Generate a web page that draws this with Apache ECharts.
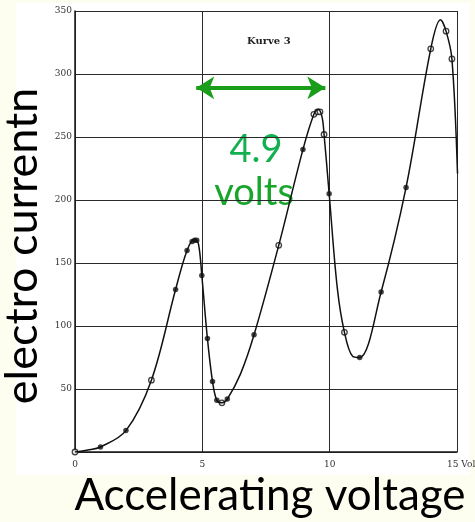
<!DOCTYPE html>
<html>
<head>
<meta charset="utf-8">
<script src="https://cdn.jsdelivr.net/npm/echarts@6/dist/echarts.min.js"></script>
<style>
  html, body { margin: 0; padding: 0; background: #fefef0; }
  #chart { width: 475px; height: 522px; }
</style>
</head>
<body>
<div id="chart"></div>
<script>
// measured points (voltage, current), filled dots
var filledPts = [
  [1.0, 4], [2.0, 17], [3.95, 129], [4.4, 160], [4.6, 167], [4.7, 168], [4.78, 168],
  [4.98, 140], [5.2, 90], [5.4, 56], [5.57, 41], [5.98, 42],
  [7.03, 93], [8.95, 240], [9.98, 205], [11.18, 75], [12.02, 127], [13.0, 210]
]
// measured points, open circles
var openPts = [
  [0, 0], [3.0, 57], [5.77, 39], [8.0, 164], [9.38, 268], [9.52, 270], [9.62, 270],
  [9.78, 252], [10.58, 95], [13.97, 320], [14.57, 334], [14.8, 312], [15.02, 221]
]
// the drawn curve
var curvePts = [
  [0, 0], [0.5, 1.5], [1.0, 4], [2.0, 17], [3.0, 57], [3.95, 129], [4.4, 160], [4.7, 169],
  [4.85, 165], [4.98, 140], [5.2, 90], [5.4, 56], [5.57, 41], [5.77, 39], [5.98, 42],
  [6.5, 62], [7.03, 93], [8.0, 164], [8.95, 240], [9.38, 268], [9.55, 272], [9.7, 266],
  [9.78, 252], [9.98, 205], [10.3, 130], [10.58, 95], [10.9, 76], [11.18, 75],
  [12.02, 127], [13.0, 210], [13.97, 320], [14.35, 343], [14.57, 334], [14.8, 312], [15.02, 221]
]
var xTicks = [0, 5, 10, 15]
var yTicks = [50, 100, 150, 200, 250, 300, 350]

var chart = echarts.init(document.getElementById('chart'))

var gridLine = { color: '#2a2a2a', width: 1 }
var serif = 'DejaVu Serif'

chart.setOption({
  animation: false,
  backgroundColor: '#fefef0',
  grid: { left: 75, right: 18, top: 11, bottom: 70, containLabel: false, outerBoundsMode: 'none' },
  graphic: [
    // white paper of the scanned figure
    { type: 'rect', z: -10, shape: { x: 16, y: 3, width: 454, height: 472 }, style: { fill: '#ffffff' } },
    { type: 'text', left: 247, top: 36, style: { text: 'Kurve 3', font: 'bold 10px "DejaVu Serif"', fill: '#222' } },
    { type: 'text', x: 22, y: 246, rotation: Math.PI / 2,
      style: { text: 'electro currentn', font: '45px Lato', fill: '#000', align: 'center', verticalAlign: 'middle' } },
    { type: 'text', x: 270, y: 496,
      style: { text: 'Accelerating voltage', font: '44px Lato', fill: '#000', align: 'center', verticalAlign: 'middle' } },
    { type: 'text', x: 256, y: 150,
      style: { text: '4.9', font: '38px Lato', fill: '#13b04f', align: 'center', verticalAlign: 'middle' } },
    { type: 'text', x: 254, y: 193,
      style: { text: 'volts', font: '38px Lato', fill: '#17a52a', align: 'center', verticalAlign: 'middle' } }
  ],
  xAxis: {
    type: 'value', min: 0, max: 15, interval: 5,
    axisLine: { lineStyle: { color: '#1a1a1a', width: 1.5 } },
    axisTick: { show: false },
    axisLabel: {
      color: '#333', fontFamily: serif, fontSize: 9, margin: 8,
      formatter: function (v) {
        if (xTicks.indexOf(v) < 0) return ''
        return v === 15 ? '{last|15 Volt}' : '' + v
      },
      rich: { last: { fontFamily: serif, fontSize: 9, color: '#333', padding: [0, 0, 0, 12] } }
    },
    splitLine: { show: true, lineStyle: gridLine }
  },
  yAxis: {
    type: 'value', min: 0, max: 350, interval: 50,
    axisLine: { show: true, lineStyle: { color: '#1a1a1a', width: 1.5 } },
    axisTick: { show: false },
    axisLabel: { color: '#333', fontFamily: serif, fontSize: 9, margin: 3,
      formatter: function (v) { return yTicks.indexOf(v) >= 0 ? v : '' } },
    splitLine: { show: true, lineStyle: gridLine }
  },
  series: [
    {
      type: 'line', data: curvePts, smooth: 0.35, showSymbol: false,
      lineStyle: { color: '#111', width: 1.5 },
      markLine: {
        silent: true, symbol: ['arrow', 'arrow'], symbolSize: [17, 18],
        label: { show: false },
        lineStyle: { color: '#1a9e1a', width: 4, type: 'solid' },
        data: [[{ coord: [4.76, 289] }, { coord: [9.83, 289] }]]
      }
    },
    {
      type: 'scatter', data: filledPts, symbol: 'circle', symbolSize: 5.5,
      itemStyle: { color: '#111' }
    },
    {
      type: 'scatter', data: openPts, symbol: 'circle', symbolSize: 5.5,
      itemStyle: { color: '#fff', borderColor: '#111', borderWidth: 1.3 }
    }
  ]
})
</script>
</body>
</html>
